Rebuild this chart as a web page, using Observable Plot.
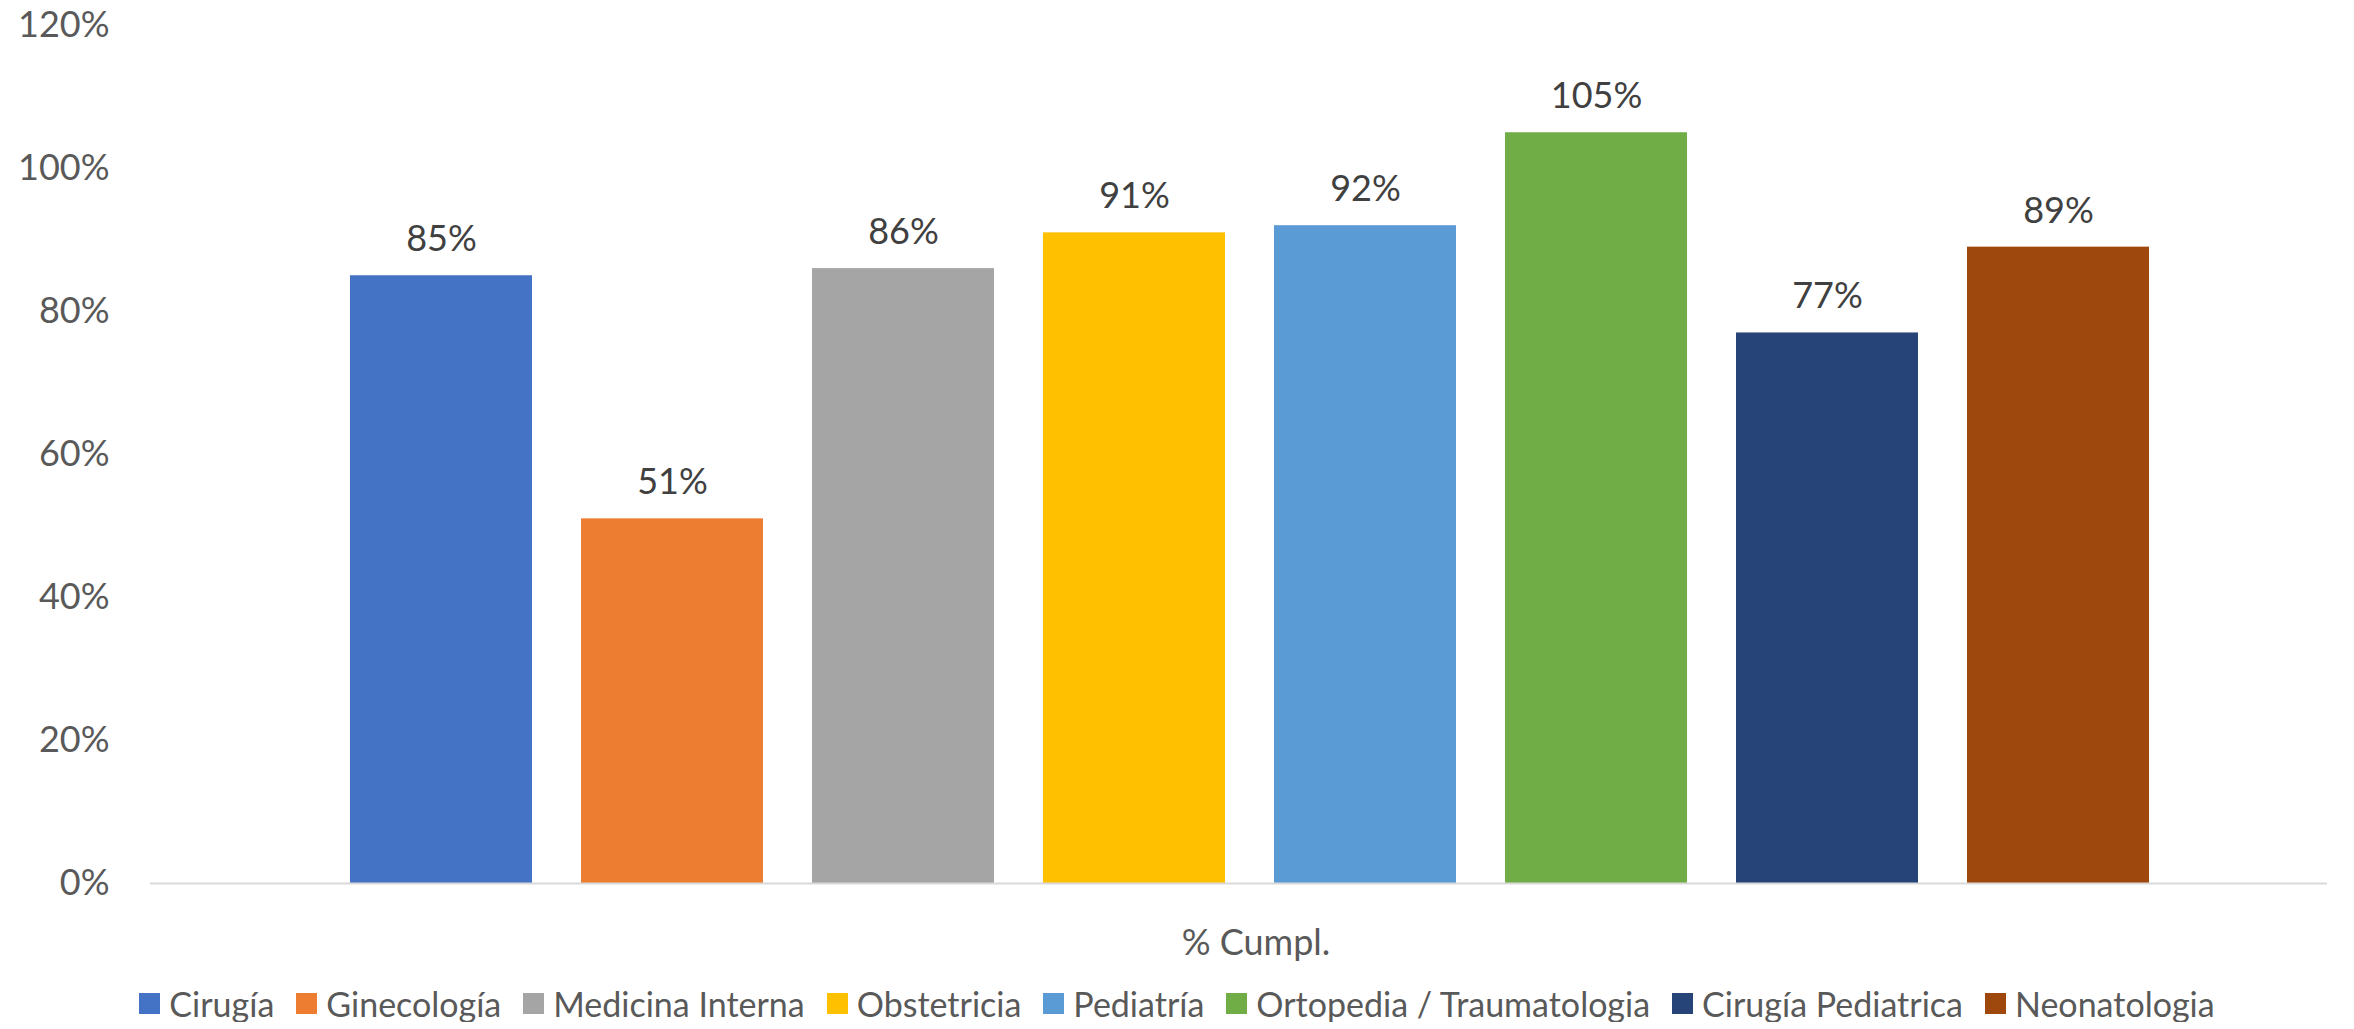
<!DOCTYPE html>
<html>
<head>
<meta charset="utf-8">
<script src="https://cdn.jsdelivr.net/npm/d3@7"></script>
<script src="https://cdn.jsdelivr.net/npm/@observablehq/plot@0.6"></script>
<style>
  html, body { margin: 0; padding: 0; background: #ffffff; }
  #chart { width: 2354px; height: 975px; }
  #legend { display: flex; justify-content: center; align-items: center; margin-top: 10px; font-family: Lato, sans-serif; font-size: 34px; color: #595959; line-height: 1.1; }
  .item { display: flex; align-items: center; margin: 0 11px; }
  .sw { width: 21px; height: 21px; margin-right: 9px; }
</style>
</head>
<body>
<div id="chart"></div>
<script>
const categories = ["Cirugía", "Ginecología", "Medicina Interna", "Obstetricia", "Pediatría", "Ortopedia / Traumatologia", "Cirugía Pediatrica", "Neonatologia"];
const values = [0.85, 0.51, 0.86, 0.91, 0.92, 1.05, 0.77, 0.89];
const colors = ["#4472C4", "#ED7D31", "#A5A5A5", "#FFC000", "#5B9BD5", "#70AD47", "#264478", "#9E480E"];
const yTicks = [0, 0.2, 0.4, 0.6, 0.8, 1.0, 1.2];
const groupLabel = "% Cumpl.";

const data = categories.map((c, i) => ({name: c, value: values[i]}));
const pct = d3.format(".0%");

const plot = Plot.plot({
  width: 2354,
  height: 975,
  marginLeft: 150,
  marginRight: 27,
  marginTop: 25,
  marginBottom: 92,
  style: {fontFamily: "Lato, sans-serif", fontSize: "36px", background: "#ffffff"},
  x: {domain: categories, paddingInner: 0.212, paddingOuter: 0.818, align: 0.53, axis: null},
  y: {domain: [0, 1.2], ticks: yTicks, tickFormat: pct},
  color: {domain: categories, range: colors},
  marks: [
    Plot.axisY({ticks: yTicks, tickFormat: pct, tickSize: 0, tickPadding: 41, fill: "#595959", fontSize: 36, label: null}),
    Plot.barY(data, {x: "name", y: "value", fill: "name"}),
    Plot.ruleY([0], {stroke: "#d9d9d9", strokeWidth: 2}),
    Plot.text(data, {x: "name", y: "value", text: d => pct(d.value), dy: -36, fill: "#404040", fontSize: 36}),
    Plot.text([groupLabel], {frameAnchor: "bottom", dy: 71, dx: 17, fill: "#595959", fontSize: 36})
  ]
});
document.getElementById("chart").appendChild(plot);

const legend = document.createElement("div");
legend.id = "legend";
categories.forEach((c, i) => {
  const item = document.createElement("div");
  item.className = "item";
  const sw = document.createElement("div");
  sw.className = "sw";
  sw.style.background = plot.scale("color").apply(c);
  const t = document.createElement("span");
  t.textContent = c;
  item.appendChild(sw);
  item.appendChild(t);
  legend.appendChild(item);
});
document.body.appendChild(legend);
</script>
</body>
</html>
